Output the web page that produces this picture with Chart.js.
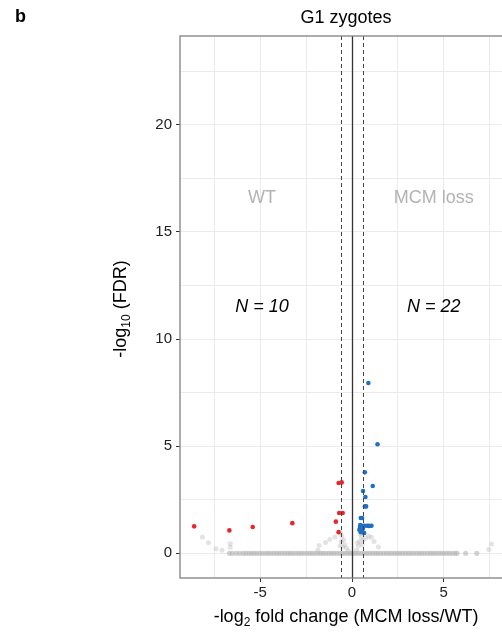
<!DOCTYPE html>
<html>
<head>
<meta charset="utf-8">
<script src="https://cdn.jsdelivr.net/npm/chart.js@4.4.1/dist/chart.umd.min.js"></script>
<style>
  html, body { margin: 0; padding: 0; background: #fff; overflow: hidden; }
  #wrap { width: 502px; height: 632px; overflow: hidden; }
</style>
</head>
<body>
<div id="wrap"><canvas id="volcano" width="560" height="632"></canvas></div>
<script>
// G1 zygotes volcano plot
const FONT = '"Liberation Sans", Arial, sans-serif';

// significant, up in WT (red)
const wtX = [-8.60, -6.68, -5.41, -3.25, -0.88, -0.73, -0.70, -0.51, -0.73, -0.56];
const wtY = [1.26, 1.07, 1.23, 1.41, 1.48, 0.99, 1.88, 1.88, 3.28, 3.31];

// significant, up in MCM loss (blue)
const mcmX = [0.89, 1.39, 0.70, 1.13, 0.60, 0.73, 0.70, 0.77, 0.48, 0.55,
  0.53, 0.67, 0.81, 0.93, 1.06, 0.44, 0.40, 0.53, 0.48, 0.66, 0.59, 0.45];
const mcmY = [7.95, 5.09, 3.78, 3.14, 2.91, 2.63, 2.19, 2.19, 1.65, 1.65,
  1.29, 1.29, 1.29, 1.28, 1.29, 1.23, 1.10, 1.07, 0.99, 0.95, 1.15, 1.32];

// not significant, above zero (grey)
const nsX = [-8.15, -7.82, -7.41, -7.08, -6.63, -6.63, -1.86, -1.79, -1.44, -1.21, -0.93,
  -0.65, -0.62, -0.58, -0.55, -0.50, -0.45, -0.40, -0.30, -0.20,
  0.25, 0.30, 0.35, 0.42, 0.45, 0.50, 0.55, 0.60, 0.75, 0.90, 1.05, 1.20, 1.44,
  7.45, 7.60];
const nsY = [0.76, 0.50, 0.22, 0.14, 0.45, 0.28, 0.14, 0.37, 0.51, 0.65, 0.76,
  0.35, 0.95, 0.55, 0.80, 0.30, 0.62, 0.40, 0.25, 0.12,
  0.15, 0.50, 0.35, 0.55, 0.90, 0.75, 0.40, 0.62, 0.70, 0.80, 0.75, 0.55, 0.30,
  0.18, 0.44];

// not significant, FDR ~ 1 (grey band at 0)
const ns0X = [-6.68, -6.52, -6.31, -6.12, -5.93, -5.78, -5.62, -5.47, -5.33, -5.18, -5.02,
  -4.88, -4.71, -4.57, -4.42, -4.26, -4.11, -3.97, -3.82, -3.66, -3.51, -3.37, -3.22,
  -3.06, -2.91, -2.77, -2.62, -2.46, -2.31, -2.17, -2.02, -1.86, -1.71, -1.57, -1.42,
  -1.26, -1.11, -0.97, -0.82, -0.66, -0.51, -0.37, -0.22, -0.08, 0.07, 0.21, 0.36,
  0.52, 0.67, 0.81, 0.96, 1.12, 1.27, 1.41, 1.56, 1.72, 1.87, 2.01, 2.16, 2.32, 2.47,
  2.61, 2.76, 2.92, 3.07, 3.21, 3.36, 3.52, 3.67, 3.81, 3.96, 4.12, 4.27, 4.41, 4.56,
  4.72, 4.87, 5.01, 5.16, 5.31, 5.46, 5.62, 5.72, 6.19, 6.80];

const xGrid = [-7.5, -5, -2.5, 0, 2.5, 5, 7.5];
const yGrid = [0, 2.5, 5, 7.5, 10, 12.5, 15, 17.5, 20, 22.5];
const vLines = [-0.585, 0, 0.585];

const groupLabels = ['WT', 'MCM loss'];
const groupX = [-4.9, 4.45];
const countLabels = ['N = 10', 'N = 22'];

const pts = (xs, ys) => xs.map((x, i) => ({ x: x, y: ys[i] }));

const isMajor = v => Math.abs(v % 5) < 1e-9;

const extras = {
  id: 'extras',
  afterDatasetsDraw(chart) {
    const { ctx, chartArea: a, scales: { x, y } } = chart;
    ctx.save();
    vLines.forEach(v => {
      ctx.beginPath();
      ctx.strokeStyle = v === 0 ? '#333' : '#444';
      ctx.lineWidth = v === 0 ? 1.3 : 1;
      ctx.setLineDash(v === 0 ? [] : [4, 3]);
      const px = Math.round(x.getPixelForValue(v)) + 0.5;
      ctx.moveTo(px, a.top);
      ctx.lineTo(px, a.bottom);
      ctx.stroke();
    });
    ctx.setLineDash([]);
    ctx.strokeStyle = '#808080';
    ctx.lineWidth = 1.3;
    ctx.strokeRect(a.left, a.top, a.right - a.left, a.bottom - a.top);

    // annotations
    ctx.textAlign = 'center';
    ctx.textBaseline = 'middle';
    ctx.font = '18px ' + FONT;
    ctx.fillStyle = '#b3b3b3';
    groupLabels.forEach((t, i) => ctx.fillText(t, x.getPixelForValue(groupX[i]), y.getPixelForValue(16.6)));
    ctx.font = 'italic 18px ' + FONT;
    ctx.fillStyle = '#000';
    countLabels.forEach((t, i) => ctx.fillText(t, x.getPixelForValue(groupX[i]), y.getPixelForValue(11.5)));
    ctx.restore();
  },
  afterDraw(chart) {
    const { ctx } = chart;
    ctx.save();
    ctx.fillStyle = '#000';
    ctx.textBaseline = 'alphabetic';
    ctx.font = 'bold 18px ' + FONT;
    ctx.textAlign = 'left';
    ctx.fillText('b', 15, 22);
    ctx.font = '18px ' + FONT;
    ctx.textAlign = 'center';
    ctx.fillText('G1 zygotes', 346, 23);

    // axis titles with subscripts
    const drawSub = (parts, cx, cy) => {
      let w = 0;
      parts.forEach(p => { ctx.font = p[1] + 'px ' + FONT; w += ctx.measureText(p[0]).width; });
      let px = cx - w / 2;
      ctx.textAlign = 'left';
      parts.forEach(p => {
        ctx.font = p[1] + 'px ' + FONT;
        ctx.fillText(p[0], px, cy + p[2]);
        px += ctx.measureText(p[0]).width;
      });
    };
    drawSub([['-log', 18, 0], ['2', 12, 4], [' fold change (MCM loss/WT)', 18, 0]], 346, 622);
    ctx.translate(126, 309);
    ctx.rotate(-Math.PI / 2);
    drawSub([['-log', 18, 0], ['10', 12, 4], [' (FDR)', 18, 0]], 0, 0);
    ctx.restore();
  }
};

const gridColor = '#ebebeb';
const tickColor = c => (c.tick && isMajor(c.tick.value)) ? '#333' : 'rgba(0,0,0,0)';

new Chart(document.getElementById('volcano'), {
  type: 'scatter',
  data: {
    datasets: [
      { data: pts(mcmX, mcmY), backgroundColor: '#1f6fc4', pointRadius: 2.3, borderWidth: 0 },
      { data: pts(wtX, wtY), backgroundColor: '#e8262b', pointRadius: 2.3, borderWidth: 0 },
      { data: pts(nsX, nsY), backgroundColor: 'rgba(185,185,185,0.4)', pointRadius: 2.5, borderWidth: 0 },
      { data: ns0X.map(v => ({ x: v, y: 0 })), backgroundColor: 'rgba(180,180,180,0.6)', pointRadius: 2.6, borderWidth: 0 }
    ]
  },
  options: {
    responsive: false,
    animation: false,
    devicePixelRatio: 1,
    layout: { padding: { left: 0, top: 36, right: 36, bottom: 0 } },
    plugins: { legend: { display: false }, tooltip: { enabled: false } },
    scales: {
      x: {
        type: 'linear', min: -9.37, max: 9.37,
        afterBuildTicks: s => { s.ticks = xGrid.map(v => ({ value: v })); },
        afterFit: s => { s.height = 54; },
        ticks: {
          autoSkip: false, maxRotation: 0, padding: 2, color: '#222',
          font: { family: FONT, size: 15 },
          callback: v => isMajor(v) ? String(v) : ''
        },
        grid: { color: gridColor, tickColor: tickColor, tickLength: 4 },
        border: { display: false }
      },
      y: {
        type: 'linear', min: -1.15, max: 24.14,
        afterBuildTicks: s => { s.ticks = yGrid.map(v => ({ value: v })); },
        afterFit: s => { s.width = 180; },
        ticks: {
          autoSkip: false, padding: 4, color: '#222',
          font: { family: FONT, size: 15 },
          callback: v => isMajor(v) ? String(v) : ''
        },
        grid: { color: gridColor, tickColor: tickColor, tickLength: 4 },
        border: { display: false }
      }
    }
  },
  plugins: [extras]
});
</script>
</body>
</html>
